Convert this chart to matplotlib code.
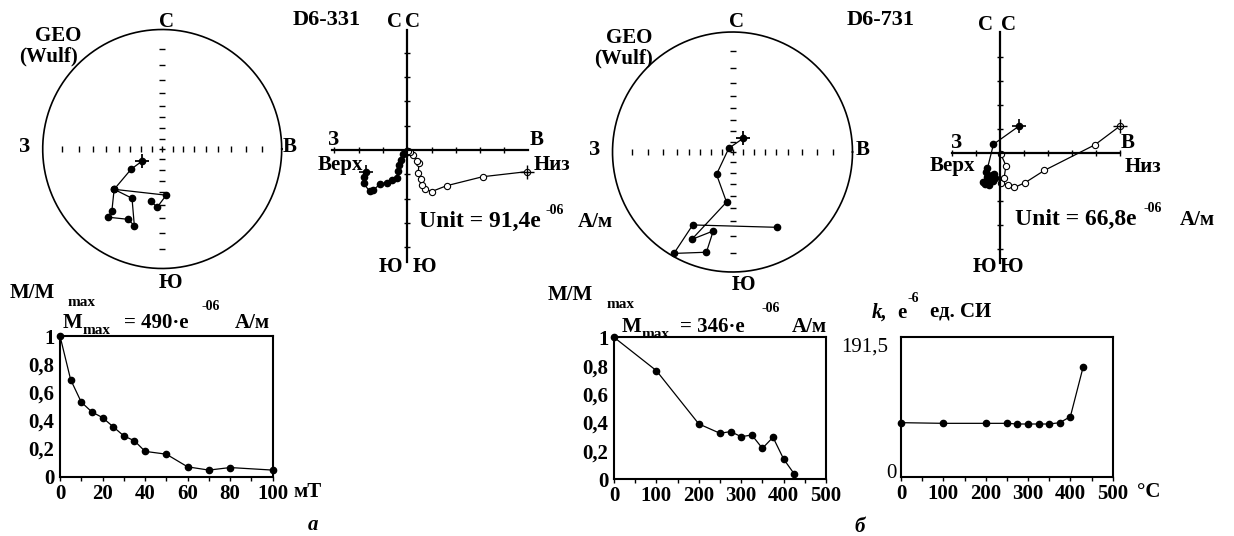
import numpy as np
import matplotlib
matplotlib.use('Agg')
import matplotlib.pyplot as plt

W, H = 1234, 536
plt.rcParams['font.family'] = ['Liberation Serif', 'DejaVu Serif']
plt.rcParams['font.weight'] = 'bold'

# --- stereonets: declination / inclination, NRM first ---
st1_dec = [239, 237, 230, 219, 218.5, 206, 200, 211.5, 230, 175, 185, 192]
st1_inc = [67.8, 55.6, 34.6, 22.4, 17.8, 23.6, 21.4, 38.4, 34.6, 47.6, 37.8, 41.8]

st2_dec = [38, 315, 215.6, 186.8, 205, 193.7, 194.6, 210, 208.6, 149.4]
st2_inc = [73.5, 85, 64.2, 44.4, 12.4, 21.8, 8.4, 1.4, 20.6, 17.8]

# --- Zijderveld diagrams (units), NRM first ---
z1_hx = [-1.70, -1.78, -1.80, -1.55, -1.40, -1.12, -0.85, -0.64, -0.44, -0.38, -0.33, -0.25, -0.16, -0.08, -0.02, 0.0]
z1_hy = [-0.90, -1.10, -1.37, -1.70, -1.65, -1.40, -1.34, -1.25, -1.16, -0.85, -0.62, -0.40, -0.18, -0.12, -0.10, -0.05]
z1_vx = [4.93, 3.10, 1.62, 1.00, 0.74, 0.62, 0.56, 0.45, 0.48, 0.40, 0.25, 0.12, 0.03]
z1_vy = [-0.89, -1.10, -1.47, -1.71, -1.60, -1.45, -1.20, -0.95, -0.55, -0.45, -0.21, -0.10, -0.05]

z2_hx = [0.81, -0.27, -0.52, -0.60, -0.55, -0.72, -0.62, -0.45, -0.40, -0.28, -0.20, -0.35, -0.25]
z2_hy = [1.12, 0.35, -0.65, -0.80, -1.00, -1.22, -1.30, -1.35, -1.15, -1.20, -1.05, -0.95, -0.90]
z2_vx = [5.00, 3.96, 1.85, 1.05, 0.60, 0.35, 0.05, 0.17, 0.25, 0.04]
z2_vy = [1.11, 0.33, -0.74, -1.25, -1.45, -1.33, -1.28, -1.07, -0.54, -0.07]

# --- demagnetisation curves ---
af_field = [0, 5, 10, 15, 20, 25, 30, 35, 40, 50, 60, 70, 80, 100]
af_m = [1.0, 0.69, 0.53, 0.46, 0.42, 0.355, 0.29, 0.255, 0.18, 0.16, 0.07, 0.047, 0.065, 0.047]

th_temp = [0, 100, 200, 250, 275, 300, 325, 350, 375, 400, 425]
th_m = [1.0, 0.765, 0.39, 0.324, 0.336, 0.30, 0.312, 0.218, 0.296, 0.143, 0.038]

k_temp = [0, 100, 200, 250, 275, 300, 325, 350, 375, 400, 430]
k_val = [74.4, 73.5, 73.5, 73.5, 72.6, 72.6, 72.6, 72.6, 74.4, 82.6, 149.8]

m_ticks = [0, 0.2, 0.4, 0.6, 0.8, 1.0]
m_labels = ['0', '0,2', '0,4', '0,6', '0,8', '1']

fig = plt.figure(figsize=(W / 100, H / 100), dpi=100)


def px_axes(x0, y0, x1, y1):
    return fig.add_axes([x0 / W, 1 - y1 / H, (x1 - x0) / W, (y1 - y0) / H])


def ptext(x, y, s, size=15, ha='center', va='center', **kw):
    fig.text(x / W, 1 - y / H, s, fontsize=size, ha=ha, va=va, **kw)


def stereonet(ax, dec, inc):
    ax.set_xlim(-1, 1)
    ax.set_ylim(-1, 1)
    ax.axis('off')
    t = np.linspace(0, 2 * np.pi, 400)
    ax.plot(np.cos(t), np.sin(t), color='k', lw=1.2, clip_on=False)
    rr = np.tan(np.radians(90 - np.arange(80, 0, -10)) / 2)
    for s in (-1, 1):
        ax.plot(s * rr, np.zeros_like(rr), ls='none', marker='|', ms=5, mew=1, color='k')
        ax.plot(np.zeros_like(rr), s * rr, ls='none', marker='_', ms=5, mew=1, color='k')
    ax.plot([0], [0], ls='none', marker='+', ms=4, mew=1, color='k')
    r = np.tan(np.radians(90 - np.abs(np.array(inc))) / 2)
    x = r * np.sin(np.radians(dec))
    y = r * np.cos(np.radians(dec))
    ax.plot(x, y, color='k', lw=0.9, marker='o', ms=4.5, clip_on=False)
    ax.plot(x[0], y[0], ls='none', marker='+', ms=10, mew=1.3, color='k')


def zijderveld(ax, hx, hy, vx, vy, xlim, ylim, xt, yt):
    ax.set_xlim(xlim)
    ax.set_ylim(ylim)
    ax.patch.set_alpha(0)
    for s in ('top', 'right'):
        ax.spines[s].set_visible(False)
    for s in ('left', 'bottom'):
        ax.spines[s].set_position(('data', 0))
        ax.spines[s].set_linewidth(1.6)
    ax.set_xticks(xt)
    ax.set_yticks(yt)
    ax.tick_params(direction='inout', length=5, width=1, labelbottom=False, labelleft=False)
    ax.plot(hx, hy, color='k', lw=0.9, marker='o', ms=4.5, clip_on=False)
    ax.plot(vx, vy, color='k', lw=0.9, marker='o', ms=4.5, mfc='white', mew=0.8, clip_on=False)
    ax.plot(hx[0], hy[0], ls='none', marker='+', ms=10, mew=1.2, color='k', clip_on=False)
    ax.plot(vx[0], vy[0], ls='none', marker='+', ms=10, mew=1.0, color='k', clip_on=False)


def curve(ax, x, y, xlim, ylim, xt, xminor, ypad):
    ax.plot(x, y, color='k', lw=0.9, marker='o', ms=4.5, clip_on=False, zorder=5)
    ax.set_xlim(xlim)
    ax.set_ylim(ylim)
    for s in ax.spines.values():
        s.set_linewidth(1.5)
    ax.set_xticks(xt)
    ax.set_xticklabels([str(v) for v in xt], fontsize=15)
    ax.set_xticks(xminor, minor=True)
    ax.tick_params(axis='x', which='both', direction='out', length=3, width=1, pad=2)
    ax.tick_params(axis='y', length=0, pad=ypad)


# stereonets
ax = px_axes(42.7, 29.5, 281.7, 268.5)
stereonet(ax, st1_dec, st1_inc)
ax = px_axes(612.5, 32, 852.5, 272)
stereonet(ax, st2_dec, st2_inc)

ptext(167, 22, 'С')
ptext(170, 283, 'Ю')
ptext(25, 147, 'З')
ptext(290, 147, 'В')
ptext(58, 36, 'GEO')
ptext(48, 56, '(Wulf)')

ptext(737, 22, 'С')
ptext(743, 285, 'Ю')
ptext(595, 150, 'З')
ptext(863, 150, 'В')
ptext(629, 38, 'GEO')
ptext(624, 58, '(Wulf)')

ptext(293, 20, 'D6-331', ha='left', size=16)
ptext(847, 20, 'D6-731', ha='left', size=16)

# Zijderveld diagrams
ax = px_axes(332, 30, 528, 262)
zijderveld(ax, z1_hx, z1_hy, z1_vx, z1_vy, (-3.10, 4.97), (-4.61, 4.94),
           [-3, -2, -1, 1, 2, 3, 4], [-4, -3, -2, -1, 1, 2, 3, 4])
ax = px_axes(951.7, 32, 1120, 263)
zijderveld(ax, z2_hx, z2_hy, z2_vx, z2_vy, (-2.01, 5.0), (-4.6, 5.03),
           [-2, -1, 1, 2, 3, 4, 5], [-4, -3, -2, -1, 1, 2, 3, 4])

ptext(395, 22, 'С')
ptext(412, 22, 'С')
ptext(390, 267, 'Ю')
ptext(424, 267, 'Ю')
ptext(334, 140, 'З')
ptext(537, 140, 'В')
ptext(340, 165, 'Верх')
ptext(552, 165, 'Низ')
ptext(419, 221, 'Unit = 91,4e', ha='left', size=17)
ptext(545, 211, '-06', ha='left', size=10)
ptext(578, 222, 'А/м', ha='left', size=15)

ptext(985, 25, 'С')
ptext(1008, 25, 'С')
ptext(984, 267, 'Ю')
ptext(1011, 267, 'Ю')
ptext(957, 143, 'З')
ptext(1128, 143, 'В')
ptext(952, 166, 'Верх')
ptext(1143, 167, 'Низ')
ptext(1015, 219, 'Unit = 66,8e', ha='left', size=17)
ptext(1144, 209, '-06', ha='left', size=10)
ptext(1180, 220, 'А/м', ha='left', size=15)

# AF demagnetisation (a)
ax = px_axes(60, 336, 272.7, 476.7)
curve(ax, af_field, af_m, (0, 100), (0, 1), [0, 20, 40, 60, 80, 100], np.arange(0, 101, 10), 4)
ax.set_yticks(m_ticks)
ax.set_yticklabels(m_labels, fontsize=15)
ptext(10, 293, 'M/M', ha='left')
ptext(68, 303, 'max', ha='left', size=11)
ptext(63, 323, 'M', ha='left')
ptext(83, 331, 'max', ha='left', size=11)
ptext(124, 323, '= 490·e', ha='left')
ptext(201, 307, '-06', ha='left', size=10)
ptext(235, 323, 'А/м', ha='left')
ptext(293, 492, 'мТ', ha='left')
ptext(313, 525, 'а', style='italic')

# thermal demagnetisation (б)
ax = px_axes(614, 337.3, 826, 479.3)
curve(ax, th_temp, th_m, (0, 500), (0, 1), [0, 100, 200, 300, 400, 500], np.arange(0, 501, 50), 4)
ax.set_yticks(m_ticks)
ax.set_yticklabels(m_labels, fontsize=15)
ptext(548, 295, 'M/M', ha='left')
ptext(607, 305, 'max', ha='left', size=11)
ptext(622, 327, 'M', ha='left')
ptext(642, 335, 'max', ha='left', size=11)
ptext(680, 327, '= 346·e', ha='left')
ptext(761, 309, '-06', ha='left', size=10)
ptext(792, 327, 'А/м', ha='left')
ptext(860, 527, 'б', style='italic')

# susceptibility vs temperature
ax = px_axes(901, 336.7, 1112.7, 477.3)
curve(ax, k_temp, k_val, (0, 500), (0, 191.5), [0, 100, 200, 300, 400, 500], np.arange(0, 501, 50), 0)
ax.set_yticks([])
ptext(888, 347, '191,5', ha='right', fontweight='normal')
ptext(897, 473, '0', ha='right', fontweight='normal')
ptext(1137, 492, '°C', ha='left')
ptext(872, 313, 'k,', ha='left', style='italic')
ptext(897, 313, 'e', ha='left')
ptext(907, 298, '-6', ha='left', size=10)
ptext(930, 312, 'ед. СИ', ha='left')

fig.savefig('out.png', dpi=100)
